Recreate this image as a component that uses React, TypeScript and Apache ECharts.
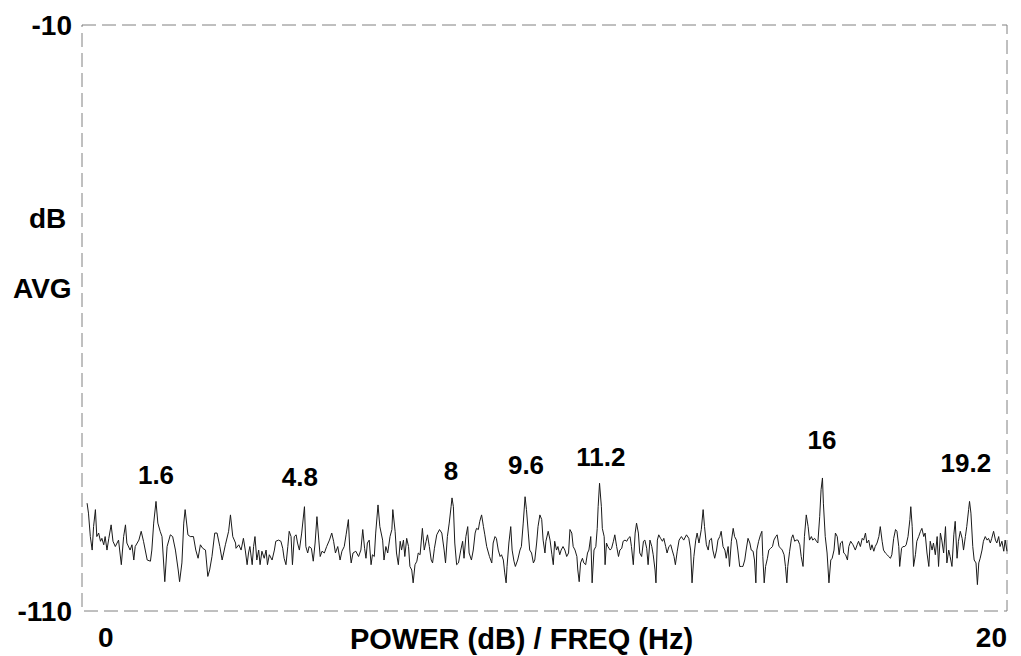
import React, { useEffect, useRef } from "react";
import * as echarts from "echarts";

// Frequency (Hz) of each traced point of the averaged power spectrum
const FREQ_HZ = [
  0.11, 0.14, 0.18, 0.22, 0.25, 0.29, 0.32, 0.36, 0.40, 0.43,
  0.47, 0.50, 0.54, 0.58, 0.63, 0.67, 0.72, 0.79, 0.85, 0.90,
  0.94, 0.97, 1.04, 1.08, 1.12, 1.15, 1.23, 1.28, 1.33, 1.41,
  1.48, 1.51, 1.55, 1.60, 1.64, 1.69, 1.73, 1.79, 1.84, 1.91,
  1.96, 2.02, 2.08, 2.11, 2.16, 2.20, 2.23, 2.29, 2.34, 2.41,
  2.46, 2.51, 2.56, 2.61, 2.67, 2.72, 2.76, 2.81, 2.87, 2.92,
  2.98, 3.03, 3.10, 3.17, 3.21, 3.26, 3.32,
  3.33, 3.39, 3.44, 3.49, 3.53, 3.57, 3.60, 3.63, 3.68, 3.71,
  3.74, 3.78, 3.82, 3.85, 3.89, 3.94, 3.98, 4.01, 4.05, 4.11,
  4.16, 4.19, 4.25, 4.30, 4.34, 4.37, 4.41, 4.45, 4.48, 4.52,
  4.55, 4.59, 4.63, 4.66, 4.70, 4.75, 4.81, 4.84, 4.88, 4.91,
  4.96, 5.00, 5.04, 5.08, 5.12, 5.15, 5.19, 5.24, 5.29, 5.35,
  5.40, 5.44, 5.48, 5.53, 5.58, 5.62, 5.67, 5.71, 5.76, 5.79,
  5.82, 5.86, 5.92, 5.98, 6.03, 6.07, 6.11, 6.14, 6.17, 6.21,
  6.25, 6.28, 6.32, 6.35, 6.40, 6.44, 6.50, 6.53, 6.57, 6.61,
  6.66,
  6.70, 6.72, 6.77, 6.80, 6.84, 6.88, 6.91, 6.95, 6.98, 7.02,
  7.06, 7.09, 7.13, 7.16, 7.20, 7.24, 7.27, 7.31, 7.36, 7.40,
  7.44, 7.47, 7.51, 7.55, 7.58, 7.62, 7.67, 7.73, 7.78, 7.83,
  7.86, 7.90, 7.94, 7.98, 8.00, 8.03, 8.06, 8.10, 8.14, 8.19,
  8.23, 8.26, 8.30, 8.34, 8.37, 8.42, 8.46, 8.50, 8.53, 8.57,
  8.60, 8.64, 8.68, 8.71, 8.75, 8.81, 8.86, 8.89, 8.93, 8.96,
  9.00, 9.04, 9.07, 9.11, 9.14, 9.17, 9.19, 9.23, 9.27, 9.30,
  9.34, 9.37, 9.42, 9.47, 9.50, 9.54, 9.58, 9.61, 9.65, 9.68,
  9.72, 9.76, 9.79, 9.83, 9.86, 9.90, 9.94, 9.97, 10.01,
  10.03, 10.08, 10.12, 10.16, 10.19, 10.22, 10.26, 10.29, 10.33, 10.36,
  10.40, 10.44, 10.48, 10.52, 10.55, 10.59, 10.62, 10.66, 10.70, 10.72,
  10.75, 10.78, 10.82, 10.85, 10.89, 10.93, 10.96, 11.00, 11.03, 11.07,
  11.11, 11.14, 11.16, 11.19, 11.23, 11.25, 11.29, 11.31, 11.34, 11.37,
  11.42, 11.45, 11.49, 11.52, 11.56, 11.60, 11.63, 11.67, 11.70, 11.74,
  11.78, 11.81, 11.85, 11.88, 11.92, 11.96, 11.99, 12.03, 12.06, 12.10,
  12.14, 12.17, 12.21, 12.24, 12.28, 12.32, 12.35, 12.39, 12.41, 12.44,
  12.47, 12.51, 12.55, 12.58, 12.62, 12.65, 12.69, 12.73, 12.76, 12.80,
  12.83, 12.87, 12.91, 12.96, 13.01, 13.07, 13.12, 13.16, 13.19, 13.23,
  13.27, 13.30, 13.34,
  13.39, 13.43, 13.46, 13.50, 13.54, 13.57, 13.61, 13.64, 13.68, 13.72,
  13.75, 13.79, 13.82, 13.86, 13.90, 13.93, 13.97, 14.00, 14.04, 14.08,
  14.11, 14.15, 14.18, 14.22, 14.26, 14.29, 14.33, 14.36, 14.40, 14.44,
  14.47, 14.51, 14.54, 14.57, 14.59, 14.63, 14.67, 14.70, 14.72, 14.75,
  14.78, 14.82, 14.85, 14.89, 14.93, 14.96, 15.00, 15.03, 15.07, 15.11,
  15.14, 15.18, 15.21, 15.24, 15.26, 15.30, 15.34, 15.37, 15.41, 15.44,
  15.48, 15.52, 15.55, 15.59, 15.62, 15.66, 15.70, 15.73, 15.77, 15.80,
  15.84, 15.88, 15.91, 15.95, 15.98, 16.01, 16.03, 16.07, 16.11, 16.15,
  16.19, 16.22, 16.26, 16.29, 16.33, 16.37, 16.40, 16.44, 16.47, 16.51,
  16.55, 16.58, 16.62, 16.67,
  16.72, 16.76, 16.79, 16.83, 16.87, 16.90, 16.94, 16.97, 17.01, 17.05,
  17.08, 17.12, 17.15, 17.19, 17.23, 17.26, 17.30, 17.33, 17.37, 17.41,
  17.44, 17.48, 17.51, 17.55, 17.59, 17.62, 17.66, 17.68, 17.72, 17.75,
  17.79, 17.82, 17.86, 17.90, 17.92, 17.95, 17.98, 18.02, 18.05, 18.09,
  18.13, 18.16, 18.20, 18.23, 18.27, 18.31, 18.34, 18.38, 18.41, 18.45,
  18.49, 18.52, 18.56, 18.59, 18.63, 18.67, 18.70, 18.74, 18.77, 18.81,
  18.85, 18.88, 18.92, 18.95, 18.99, 19.03, 19.06, 19.10, 19.13, 19.17,
  19.19, 19.22, 19.26, 19.29, 19.33, 19.36, 19.39, 19.42, 19.46, 19.49,
  19.53, 19.57, 19.60, 19.64, 19.67, 19.71, 19.75, 19.78, 19.82, 19.85,
  19.89, 19.93, 19.96, 20.00,
];

// Averaged power (dB) at each of those frequencies
const POWER_DB = [
  -91.6, -93.3, -97.3, -99.6, -95.6, -92.7, -97.3, -96.7, -98.1, -97.6,
  -98.7, -97.3, -99.6, -97.6, -95.3, -98.1, -99.0, -97.9, -102.1, -97.3,
  -95.3, -98.4, -99.6, -98.7, -101.3, -99.0, -97.9, -96.4, -98.1, -101.3,
  -101.5, -99.6, -95.0, -91.3, -95.0, -96.4, -97.3, -105.0, -99.0, -97.0,
  -97.3, -99.6, -103.0, -105.0, -101.8, -95.0, -92.7, -97.0, -97.3, -97.3,
  -99.6, -101.0, -98.7, -99.3, -99.6, -104.1, -103.0, -100.7, -96.7, -96.7,
  -99.0, -101.3, -98.7, -96.4, -93.6, -97.3, -98.4,
  -99.3, -98.7, -99.6, -97.6, -99.6, -102.1, -100.1, -99.0, -102.1, -99.0,
  -97.3, -101.3, -99.6, -102.1, -99.8, -101.0, -99.6, -102.1, -100.4, -101.3,
  -99.6, -98.1, -97.9, -98.1, -99.3, -101.0, -102.1, -99.0, -96.4, -97.3,
  -102.1, -97.3, -97.0, -98.4, -99.6, -96.7, -92.2, -99.0, -100.1, -99.0,
  -99.3, -101.5, -98.4, -93.9, -97.9, -100.7, -99.8, -100.1, -99.0, -97.9,
  -96.7, -98.1, -100.1, -99.0, -101.3, -99.8, -99.0, -97.0, -94.4, -99.6,
  -101.8, -100.1, -99.8, -100.7, -99.6, -96.1, -99.3, -101.0, -98.4, -97.9,
  -102.1, -100.4, -100.7, -96.7, -91.9, -95.6, -97.9, -101.3, -99.0, -100.1,
  -97.3,
  -96.1, -92.7, -96.4, -100.1, -102.1, -98.1, -99.6, -97.9, -100.7, -97.6,
  -99.0, -102.4, -103.0, -105.2, -102.1, -101.5, -100.1, -100.4, -95.9, -99.6,
  -98.1, -97.0, -99.0, -101.3, -101.8, -99.3, -97.0, -96.1, -96.7, -99.6,
  -101.8, -97.3, -95.0, -92.2, -90.7, -92.2, -98.4, -102.1, -101.8, -99.6,
  -98.1, -101.0, -97.3, -95.6, -100.1, -101.3, -99.6, -96.7, -95.9, -96.1,
  -94.7, -93.6, -95.6, -97.0, -99.0, -100.7, -101.8, -98.4, -97.3, -97.6,
  -99.6, -100.7, -100.4, -101.3, -103.5, -105.2, -102.4, -98.4, -95.6, -99.6,
  -101.5, -102.4, -101.3, -99.6, -99.0, -95.0, -90.5, -92.7, -96.7, -99.6,
  -100.1, -101.8, -101.3, -98.4, -95.6, -93.6, -94.4, -97.9, -100.1,
  -98.1, -96.4, -97.9, -100.4, -102.1, -98.1, -99.6, -99.0, -100.4, -99.6,
  -99.0, -99.6, -100.7, -100.1, -96.1, -96.7, -99.0, -99.6, -100.7, -103.0,
  -105.0, -101.8, -101.0, -101.8, -102.1, -100.1, -99.6, -97.3, -105.2, -99.6,
  -99.0, -95.9, -92.2, -88.2, -92.2, -95.9, -97.3, -102.1, -98.4, -99.0,
  -99.6, -99.3, -98.1, -97.0, -99.0, -100.7, -99.6, -99.3, -98.1, -97.9,
  -98.1, -97.6, -97.3, -99.0, -102.1, -96.7, -95.0, -96.7, -100.1, -100.7,
  -98.1, -97.9, -99.3, -102.1, -97.9, -99.0, -100.4, -103.0, -105.2, -97.9,
  -97.0, -97.6, -98.1, -97.6, -99.0, -100.1, -99.0, -98.7, -99.6, -100.7,
  -102.1, -99.8, -97.9, -97.3, -97.9, -97.0, -97.6, -99.6, -105.2, -100.7,
  -97.9, -96.7, -98.4,
  -96.1, -92.7, -95.6, -98.7, -99.6, -97.9, -97.6, -99.6, -101.0, -99.6,
  -97.9, -97.3, -96.4, -99.0, -99.6, -101.0, -99.0, -102.4, -98.1, -95.9,
  -97.3, -97.9, -99.6, -102.4, -102.4, -102.4, -101.3, -99.6, -97.6, -98.4,
  -99.6, -99.8, -101.3, -105.2, -99.6, -98.1, -97.0, -96.4, -100.7, -105.2,
  -102.4, -101.0, -99.6, -99.3, -99.0, -97.9, -97.3, -97.0, -99.0, -99.3,
  -99.6, -100.4, -102.4, -105.2, -102.4, -99.8, -97.6, -97.0, -98.1, -97.9,
  -97.9, -98.7, -100.7, -102.4, -97.3, -93.6, -95.6, -97.9, -97.3, -97.9,
  -97.6, -98.1, -98.4, -93.9, -89.3, -87.3, -91.6, -97.3, -100.1, -105.2,
  -101.3, -101.0, -99.6, -96.7, -97.3, -100.4, -98.4, -98.1, -100.1, -100.4,
  -101.3, -99.0, -98.1, -98.7,
  -99.6, -98.7, -98.1, -99.0, -97.6, -97.9, -96.7, -98.4, -97.9, -99.6,
  -98.7, -99.8, -99.0, -98.4, -97.3, -95.6, -98.1, -99.6, -100.1, -100.4,
  -100.7, -101.0, -100.4, -97.6, -96.1, -96.4, -99.0, -102.4, -99.3, -99.0,
  -99.0, -98.7, -97.3, -94.4, -92.2, -95.6, -102.4, -100.4, -98.1, -97.3,
  -96.4, -95.9, -97.3, -96.7, -100.1, -102.4, -98.1, -99.6, -98.4, -100.4,
  -97.3, -102.4, -96.7, -97.9, -100.1, -95.6, -101.8, -99.6, -100.7, -102.4,
  -97.0, -94.7, -101.0, -98.1, -96.4, -97.6, -99.6, -97.3, -95.6, -92.7,
  -91.3, -93.3, -99.0, -101.3, -101.8, -105.5, -101.8, -101.0, -99.6, -98.1,
  -97.3, -97.9, -97.6, -98.4, -97.6, -96.4, -97.9, -98.4, -97.3, -99.0,
  -98.1, -99.8, -97.9, -99.8,
];

// Peak annotations: text, and the (Hz, dB) spot where each label sits
const PEAK_LABELS = ["1.6", "4.8", "8", "9.6", "11.2", "16", "19.2"];
const PEAK_LABEL_HZ = [1.6, 4.71, 7.98, 9.6, 11.22, 16.0, 19.11];
const PEAK_LABEL_DB = [-86.8, -87.1, -86.1, -85.1, -83.7, -80.8, -84.7];

// Axis extents and the tick labels that are printed
const X_RANGE = [0, 20];
const X_TICK_LABELS = [0, 20];
const Y_RANGE = [-110, -10];
const Y_TICK_LABELS = [-110, -10];
const Y_SIDE_LABELS = ["dB", "AVG"];
const X_TITLE = "POWER (dB) / FREQ (Hz)";

const FONT = '"Liberation Sans", Arial, Helvetica, sans-serif';

export default function App() {
  const ref = useRef<HTMLDivElement>(null);

  useEffect(() => {
    if (!ref.current) return;
    const chart = echarts.init(ref.current, null, { renderer: "svg" });

    const n = Math.min(FREQ_HZ.length, POWER_DB.length);
    const lineData: number[][] = [];
    for (let i = 0; i < n; i++) lineData.push([FREQ_HZ[i], POWER_DB[i]]);

    const labelData = PEAK_LABELS.map((t, i) => ({
      name: t,
      value: [PEAK_LABEL_HZ[i], PEAK_LABEL_DB[i]],
    }));

    const G = { left: 82, top: 25, right: 14, bottom: 45 };
    const W = 1021, H = 656;
    const gw = W - G.left - G.right;
    const gh = H - G.top - G.bottom;

    chart.setOption({
      animation: false,
      backgroundColor: "#ffffff",
      grid: {
        left: G.left,
        top: G.top,
        right: G.right,
        bottom: G.bottom,
        containLabel: false,
        outerBoundsMode: "none",
      },
      xAxis: {
        type: "value",
        min: X_RANGE[0],
        max: X_RANGE[1],
        interval: 20,
        axisLine: { show: false },
        axisTick: { show: false },
        splitLine: { show: false },
        axisLabel: {
          show: true,
          margin: 12,
          alignMinLabel: "left",
          alignMaxLabel: "right",
          padding: [0, 0, 0, 16],
          color: "#000",
          fontFamily: FONT,
          fontWeight: "bold",
          fontSize: 28,
          formatter: (v: number) =>
            X_TICK_LABELS.indexOf(v) >= 0 ? String(v) : "",
        },
        name: X_TITLE,
        nameLocation: "middle",
        nameGap: 13,
        nameMoveOverlap: false,
        nameTextStyle: {
          color: "#000",
          fontFamily: FONT,
          fontWeight: "bold",
          fontSize: 29,
          lineHeight: 30,
          padding: [0, 46, 0, 0],
        },
      },
      yAxis: {
        type: "value",
        min: Y_RANGE[0],
        max: Y_RANGE[1],
        interval: 10,
        axisLine: { show: false },
        axisTick: { show: false },
        splitLine: { show: false },
        axisLabel: {
          margin: 10,
          color: "#000",
          fontFamily: FONT,
          fontWeight: "bold",
          fontSize: 28,
          formatter: (v: number) =>
            Y_TICK_LABELS.indexOf(v) >= 0 ? String(v) : "",
        },
      },
      graphic: [
        {
          type: "rect",
          shape: { x: G.left, y: G.top, width: gw, height: gh },
          style: {
            fill: "none",
            stroke: "#808080",
            lineWidth: 1,
            lineDash: [14, 6],
          },
          silent: true,
          z: 1,
        },
        {
          type: "text",
          x: 29,
          y: 218,
          style: {
            text: Y_SIDE_LABELS[0],
            fill: "#000",
            fontFamily: FONT,
            fontWeight: "bold",
            fontSize: 28,
            align: "left",
            verticalAlign: "middle",
          },
        },
        {
          type: "text",
          x: 13,
          y: 288,
          style: {
            text: Y_SIDE_LABELS[1],
            fill: "#000",
            fontFamily: FONT,
            fontWeight: "bold",
            fontSize: 28,
            align: "left",
            verticalAlign: "middle",
          },
        },
      ],
      series: [
        {
          type: "line",
          data: lineData,
          showSymbol: false,
          symbol: "none",
          lineStyle: { color: "#1a1a1a", width: 1 },
          silent: true,
          z: 3,
        },
        {
          type: "scatter",
          data: labelData,
          symbolSize: 0,
          itemStyle: { color: "transparent" },
          silent: true,
          z: 4,
          label: {
            show: true,
            position: "inside",
            formatter: (p: any) => p.name,
            color: "#000",
            opacity: 1,
            textBorderWidth: 0,
            fontFamily: FONT,
            fontWeight: "bold",
            fontSize: 26,
          },
        },
      ],
    });

    return () => chart.dispose();
  }, []);

  return (
    <div
      ref={ref}
      style={{ position: "absolute", left: 0, top: 0, width: 1021, height: 656 }}
    />
  );
}
